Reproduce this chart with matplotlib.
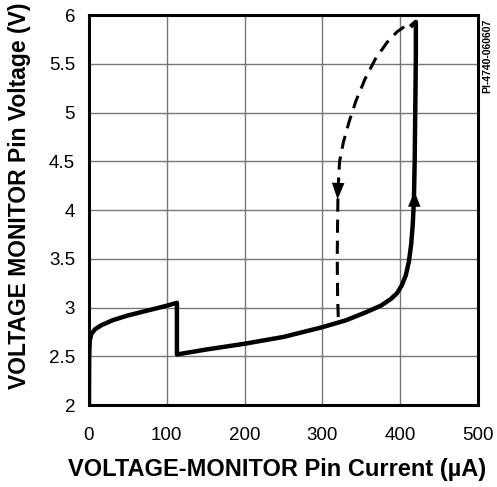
import numpy as np
import matplotlib.pyplot as plt

plt.rcParams['font.family'] = ['Liberation Sans', 'DejaVu Sans']

# Solid trace: current rising (uA, V)
solid_i = [0, 0.3, 1, 3, 8, 16, 30, 50, 75, 100, 113, 113, 150, 200, 250, 300,
           330, 355, 375, 388, 396, 402, 407, 411, 414, 416, 417.5, 418.5, 419.5,
           420, 420, 417, 413]
solid_v = [2.0, 2.5, 2.66, 2.73, 2.78, 2.82, 2.87, 2.92, 2.97, 3.02, 3.05, 2.52,
           2.57, 2.63, 2.7, 2.8, 2.87, 2.95, 3.02, 3.09, 3.15, 3.23, 3.33, 3.47,
           3.65, 3.85, 4.1, 4.5, 5.2, 5.6, 5.93, 5.91, 5.88]
# Dashed trace: voltage falling back
dash_i = [405, 396, 383, 368, 355, 343, 334, 327, 322, 320, 319.5, 319, 319.5, 320.5]
dash_v = [5.88, 5.83, 5.72, 5.55, 5.35, 5.12, 4.9, 4.7, 4.5, 4.2, 3.9, 3.5, 3.1, 2.86]

x_ticks = [0, 100, 200, 300, 400, 500]
y_ticks = [2, 2.5, 3, 3.5, 4, 4.5, 5, 5.5, 6]
y_labels = ['2', '2.5', '3', '3.5', '4', '4.5', '5', '5.5', '6']

fig = plt.figure(figsize=(4.97, 4.87), dpi=100)
ax = fig.add_axes([0.179, 0.168, 0.783, 0.801])

ax.plot(solid_i, solid_v, color='black', lw=3.2, solid_joinstyle='round',
        solid_capstyle='butt')
ax.plot(dash_i, dash_v, color='black', lw=2.2, ls=(0, (4.3, 2.6)))

# arrows
ax.annotate('', xy=(418.3, 4.22), xytext=(417.8, 3.95),
            arrowprops=dict(arrowstyle='-|>,head_width=0.45,head_length=1.1',
                            color='black', lw=0))
ax.annotate('', xy=(319.3, 4.08), xytext=(320.5, 4.35),
            arrowprops=dict(arrowstyle='-|>,head_width=0.45,head_length=1.2',
                            color='black', lw=0))

ax.set_xlim(0, 500)
ax.set_ylim(2, 6)
ax.set_xticks(x_ticks)
ax.set_yticks(y_ticks)
ax.set_yticklabels(y_labels)
ax.grid(True, color='#777777', lw=1.0)
ax.tick_params(length=0, labelsize=13.5)
ax.tick_params(axis='x', pad=16)
ax.tick_params(axis='y', pad=10)
for s in ax.spines.values():
    s.set_linewidth(2.2)

ax.set_xlabel('VOLTAGE-MONITOR Pin Current (\u00b5A)', fontsize=17, fontweight='bold')
ax.set_ylabel('VOLTAGE MONITOR Pin Voltage (V)', fontsize=16.5, fontweight='bold')
ax.xaxis.set_label_coords(0.483, -0.135)
ax.yaxis.set_label_coords(-0.15, 0.537)

fig.text(0.981, 0.962, 'PI-4740-060607', rotation=90, fontsize=7.5, fontweight='bold',
         ha='center', va='top')

fig.savefig('out.png', dpi=100)
